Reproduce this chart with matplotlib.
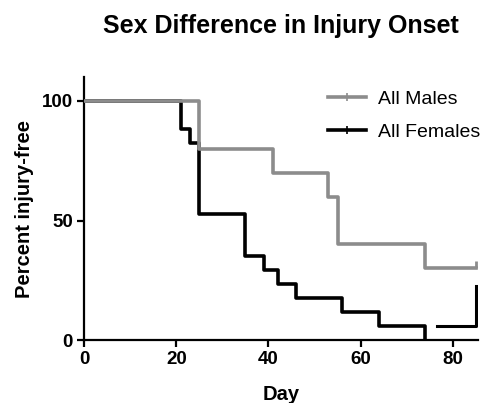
import matplotlib.pyplot as plt
from matplotlib.lines import Line2D

plt.rcParams['font.family'] = ['Liberation Sans', 'DejaVu Sans']

# Kaplan-Meier style data (day, percent injury-free)
male_days = [0, 25, 41, 53, 55, 74, 85]
male_pct = [100, 80, 70, 60, 40, 30, 30]

female_days = [0, 21, 23, 25, 35, 39, 42, 46, 56, 64, 74]
female_pct = [100, 88.2, 82.4, 52.9, 35.3, 29.4, 23.5, 17.6, 11.8, 5.9, 0]

# stray female segment at the right edge
female_tail_days = [76.6, 85, 85]
female_tail_pct = [5.9, 5.9, 22.5]

x_ticks = [0, 20, 40, 60, 80]
y_ticks = [0, 50, 100]

grey = '#8c8c8c'

fig = plt.figure(figsize=(4.81, 4.03), dpi=100)
ax = fig.add_axes([0.175, 0.156, 0.819, 0.653])

ax.step(female_days, female_pct, where='post', color='black', lw=2.6, zorder=2)
ax.plot(female_tail_days, female_tail_pct, color='black', lw=2.2, zorder=2)
ax.step(male_days, male_pct, where='post', color=grey, lw=2.6, zorder=3)
ax.plot([male_days[-1]], [male_pct[-1]], marker=2, color=grey, ms=5, mew=2, zorder=3)

ax.set_xlim(0, 85.5)
ax.set_ylim(0, 110)
ax.set_xticks(x_ticks)
ax.set_yticks(y_ticks)

for s in ['top', 'right']:
    ax.spines[s].set_visible(False)
for s in ['left', 'bottom']:
    ax.spines[s].set_linewidth(1.6)
ax.tick_params(width=1.6, length=5, labelsize=13.5, pad=3)
for lab in ax.get_xticklabels() + ax.get_yticklabels():
    lab.set_fontweight('bold')

ax.set_xlabel('Day', fontsize=14.5, fontweight='bold', labelpad=12)
ax.set_ylabel('Percent injury-free', fontsize=14.5, fontweight='bold', labelpad=6)
fig.suptitle('Sex Difference in Injury Onset', fontsize=18, fontweight='bold',
             x=0.583, y=0.965)

h_m = Line2D([], [], color=grey, lw=2.6, marker='|', ms=6, mew=1.2)
h_f = Line2D([], [], color='black', lw=2.6, marker='|', ms=6, mew=1.2)
ax.legend([h_m, h_f], ['All Males', 'All Females'], loc='upper right',
          bbox_to_anchor=(1.05, 1.015), frameon=False, fontsize=14,
          handlelength=2.0, handletextpad=0.6, labelspacing=0.8, numpoints=1)

fig.savefig('out.png', dpi=100)
